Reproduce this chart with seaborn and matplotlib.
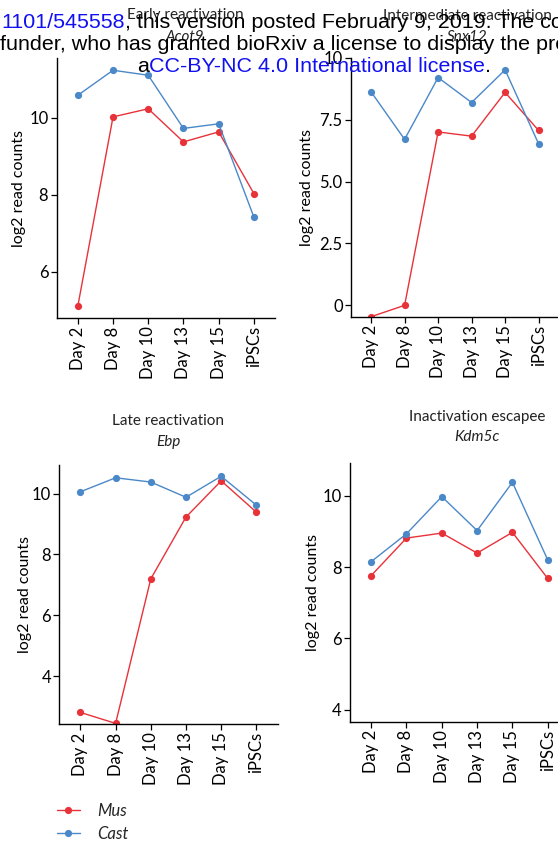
import matplotlib
matplotlib.use("Agg")
import matplotlib.pyplot as plt
import seaborn as sns
import pandas as pd
from matplotlib.lines import Line2D

# ---------------- data ----------------
days = ["Day 2", "Day 8", "Day 10", "Day 13", "Day 15", "iPSCs"]
alleles = ["Mus", "Cast"]

acot9_mus = [5.11, 10.02, 10.23, 9.37, 9.63, 8.03]
acot9_cast = [10.58, 11.23, 11.10, 9.72, 9.84, 7.42]
snx12_mus = [-0.46, 0.0, 7.01, 6.84, 8.61, 7.07]
snx12_cast = [8.63, 6.71, 9.21, 8.20, 9.52, 6.53]
ebp_mus = [2.81, 2.45, 7.20, 9.23, 10.42, 9.39]
ebp_cast = [10.06, 10.52, 10.38, 9.88, 10.57, 9.62]
kdm5c_mus = [7.76, 8.81, 8.95, 8.39, 8.97, 7.68]
kdm5c_cast = [8.15, 8.93, 9.97, 9.02, 10.37, 8.20]

titles = ["Early reactivation", "Intermediate reactivation",
          "Late reactivation", "Inactivation escapee"]
genes = ["Acot9", "Snx12", "Ebp", "Kdm5c"]
ylabel = "log2 read counts"

RED = "#E8323A"
BLUE = "#4A88C8"
palette = {"Mus": RED, "Cast": BLUE}

# ---------------- style ----------------
sns.set_theme(style="ticks")
plt.rcParams["font.family"] = ["Lato", "DejaVu Sans"]

W, H = 558, 841
fig = plt.figure(figsize=(W / 100, H / 100), dpi=100)


def add_ax(left, right, top, bottom):
    return fig.add_axes([left / W, 1 - bottom / H, (right - left) / W, (bottom - top) / H])


panels = [
    dict(mus=acot9_mus, cast=acot9_cast, box=(56.7, 275.0, 58.3, 318.0), ylim=(4.80, 11.54),
         yticks=[6, 8, 10], ytl=["6", "8", "10"], tx=185, ty=(15.5, 37.0), labx=26),
    dict(mus=snx12_mus, cast=snx12_cast, box=(351.0, 558.7, 58.0, 316.7), ylim=(-0.46, 10.0),
         yticks=[0, 2.5, 5, 7.5, 10], ytl=["0", "2.5", "5.0", "7.5", "10"], tx=467, ty=(15.5, 37.0), labx=314),
    dict(mus=ebp_mus, cast=ebp_cast, box=(59.3, 277.5, 465.0, 724.0), ylim=(2.43, 10.94),
         yticks=[4, 6, 8, 10], ytl=["4", "6", "8", "10"], tx=168, ty=(420.7, 441.7), labx=32),
    dict(mus=kdm5c_mus, cast=kdm5c_cast, box=(350.0, 568.9, 462.7, 721.7), ylim=(3.67, 10.92),
         yticks=[4, 6, 8, 10], ytl=["4", "6", "8", "10"], tx=477, ty=(417.3, 436.7), labx=320),
]

for i, p in enumerate(panels):
    left, right, top, bottom = p["box"]
    ax = add_ax(left, right, top, bottom)
    df = pd.DataFrame({
        "pos": list(range(len(days))) * 2,
        "value": p["mus"] + p["cast"],
        "allele": ["Mus"] * len(days) + ["Cast"] * len(days),
    })
    sns.lineplot(data=df, x="pos", y="value", hue="allele", hue_order=alleles,
                 palette=palette, marker="o", markersize=5.2, markeredgewidth=0,
                 linewidth=1.0, legend=False, ax=ax)
    ax.set_xlim(-0.6, len(days) - 0.4)
    ax.set_ylim(*p["ylim"])
    ax.set_xticks(range(len(days)))
    ax.set_xticklabels(days, rotation=90)
    ax.set_yticks(p["yticks"])
    ax.set_yticklabels(p["ytl"])
    ax.set_xlabel("")
    ax.set_ylabel(ylabel, fontsize=11.5, color="black")
    ax.yaxis.set_label_coords((p["labx"] - left) / (right - left), 0.5)
    sns.despine(ax=ax)
    for s in ["left", "bottom"]:
        ax.spines[s].set_color("black")
        ax.spines[s].set_linewidth(1.0)
    ax.tick_params(axis="both", length=4, width=0.9, color="black",
                   labelsize=12, labelcolor="black", pad=2)
    ax.set_facecolor("none")
    # titles
    fig.text(p["tx"] / W, 1 - p["ty"][0] / H, titles[i], ha="center", va="center",
             fontsize=11, color="#222222")
    fig.text(p["tx"] / W, 1 - p["ty"][1] / H, genes[i], ha="center", va="center",
             fontsize=11, style="italic", color="#222222")

# legend
handles = [Line2D([], [], color=palette[a], marker="o", markersize=5.2,
                  markeredgewidth=0, lw=1.0) for a in alleles]
fig.legend(handles, alleles, loc="center left",
           bbox_to_anchor=(57 / W, 1 - 822.5 / H), frameon=False, borderpad=0,
           borderaxespad=0, handlelength=1.35, handletextpad=1.05, labelspacing=0.45,
           prop={"style": "italic", "size": 12})

# bioRxiv watermark header
fig.canvas.draw()
renderer = fig.canvas.get_renderer()
WM = dict(fontfamily="Liberation Sans", fontsize=15.45, va="baseline", zorder=10)
LINK = "#1010F0"


def run_text(x_px, y_px, pieces):
    x = x_px / W
    for txt, col in pieces:
        t = fig.text(x, 1 - y_px / H, txt, color=col, **WM)
        bb = t.get_window_extent(renderer=renderer)
        x = bb.x1 / W


run_text(1.5, 28.5, [("1101/545558", LINK), (", this version posted February 9, 2019. The co", "black")])
run_text(0.5, 50.0, [("funder, who has granted bioRxiv a license to display the pre", "black")])
run_text(137.0, 71.5, [("a", "black"), ("CC-BY-NC 4.0 International license", LINK), (".", "black")])

fig.savefig("out.png", dpi=100)
